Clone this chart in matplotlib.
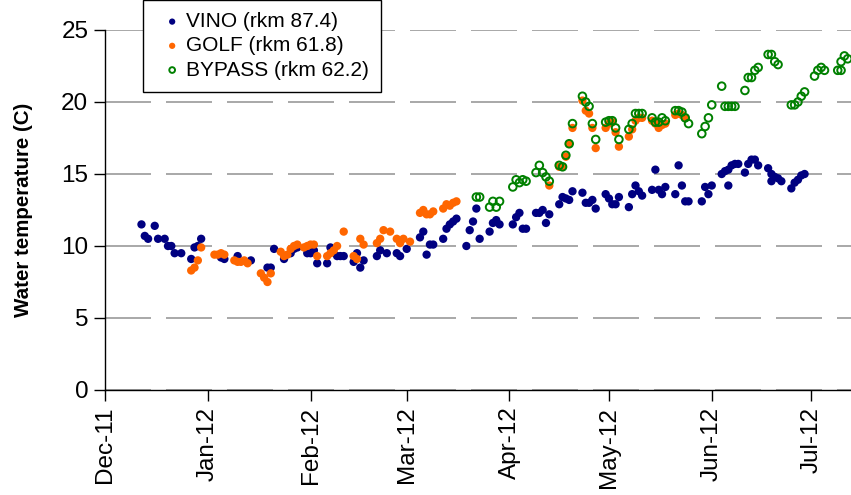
import matplotlib
matplotlib.use('Agg')
import matplotlib.pyplot as plt
import matplotlib.dates as mdates
import pandas as pd

plt.rcParams['font.family'] = ['Liberation Sans', 'DejaVu Sans']

# daily water temperature (C) at the three stations
vino_dates = [
    '2011-12-12', '2011-12-16', '2011-12-13', '2011-12-14', '2011-12-17', '2011-12-19', '2011-12-20',
    '2011-12-21', '2011-12-22', '2011-12-24', '2011-12-27', '2011-12-28', '2011-12-29', '2011-12-30',
    '2012-01-05', '2012-01-06', '2012-01-10', '2012-01-14', '2012-01-19', '2012-01-20', '2012-01-21',
    '2012-01-24', '2012-01-26', '2012-01-27', '2012-01-28', '2012-01-31',
    '2012-02-01', '2012-02-02', '2012-02-03', '2012-02-06', '2012-02-07', '2012-02-09', '2012-02-10',
    '2012-02-11', '2012-02-14', '2012-02-15', '2012-02-16', '2012-02-17', '2012-02-21', '2012-02-22',
    '2012-02-24', '2012-02-27', '2012-02-28',
    '2012-03-01', '2012-03-05', '2012-03-06', '2012-03-07', '2012-03-08', '2012-03-09', '2012-03-12',
    '2012-03-13', '2012-03-14', '2012-03-15', '2012-03-16', '2012-03-19', '2012-03-20', '2012-03-21',
    '2012-03-22', '2012-03-23', '2012-03-26', '2012-03-27', '2012-03-28', '2012-03-29',
    '2012-04-02', '2012-04-03', '2012-04-04', '2012-04-05', '2012-04-06', '2012-04-09', '2012-04-10',
    '2012-04-11', '2012-04-12', '2012-04-13', '2012-04-16', '2012-04-17', '2012-04-18', '2012-04-19',
    '2012-04-20', '2012-04-23', '2012-04-24', '2012-04-25', '2012-04-26', '2012-04-27', '2012-04-30',
    '2012-05-01', '2012-05-02', '2012-05-03', '2012-05-04', '2012-05-07', '2012-05-08', '2012-05-09',
    '2012-05-10', '2012-05-11', '2012-05-14', '2012-05-15', '2012-05-16', '2012-05-17', '2012-05-18',
    '2012-05-21', '2012-05-22', '2012-05-23', '2012-05-24', '2012-05-25', '2012-05-29', '2012-05-30',
    '2012-05-31',
    '2012-06-01', '2012-06-04', '2012-06-05', '2012-06-06', '2012-06-06', '2012-06-07', '2012-06-08',
    '2012-06-09', '2012-06-11', '2012-06-12', '2012-06-13', '2012-06-14', '2012-06-15', '2012-06-18',
    '2012-06-19', '2012-06-19', '2012-06-20', '2012-06-21', '2012-06-22', '2012-06-25', '2012-06-26',
    '2012-06-27', '2012-06-28', '2012-06-29',
]
vino_temp = [
    11.5, 11.4, 10.7, 10.5, 10.5, 10.5, 10.0, 10.0, 9.5, 9.5, 9.1, 9.9, 10.0, 10.5,
    9.2, 9.1, 9.3, 9.0, 8.5, 8.5, 9.8, 9.1, 9.5, 9.8, 9.9, 9.5,
    9.5, 9.7, 8.8, 8.8, 9.9, 9.3, 9.3, 9.3, 8.9, 9.5, 8.5, 9.0, 9.3, 9.7, 9.5, 9.5, 9.3,
    9.8, 10.6, 11.0, 9.4, 10.1, 10.1, 10.5, 11.2, 11.5, 11.7, 11.9, 10.0, 11.1, 11.7, 12.6,
    10.5, 11.0, 11.6, 11.8, 11.5,
    11.5, 12.0, 12.3, 11.2, 11.2, 12.3, 12.3, 12.5, 11.6, 12.2, 12.9, 13.4, 13.3, 13.2, 13.8,
    13.7, 13.0, 13.0, 13.2, 12.6, 13.6,
    13.3, 12.9, 12.9, 13.4, 12.7, 13.6, 14.2, 13.8, 13.5, 13.9, 15.3, 13.9, 13.6, 14.1, 13.6,
    15.6, 14.2, 13.1, 13.1, 13.1, 14.1, 13.6,
    14.2, 15.0, 15.2, 15.3, 14.2, 15.6, 15.7, 15.7, 15.1, 15.7, 16.0, 16.0, 15.6, 15.4, 14.5,
    15.0, 14.8, 14.7, 14.5, 14.0, 14.4, 14.6, 14.9, 15.0,
]

golf_dates = [
    '2011-12-27', '2011-12-28', '2011-12-29', '2011-12-30',
    '2012-01-03', '2012-01-04', '2012-01-05', '2012-01-06', '2012-01-09', '2012-01-10', '2012-01-11',
    '2012-01-12', '2012-01-13', '2012-01-17', '2012-01-18', '2012-01-19', '2012-01-20', '2012-01-23',
    '2012-01-24', '2012-01-25', '2012-01-26', '2012-01-27', '2012-01-28', '2012-01-30', '2012-01-31',
    '2012-02-01', '2012-02-02', '2012-02-03', '2012-02-06', '2012-02-07', '2012-02-08', '2012-02-09',
    '2012-02-11', '2012-02-14', '2012-02-15', '2012-02-16', '2012-02-17', '2012-02-21', '2012-02-22',
    '2012-02-23', '2012-02-25', '2012-02-27', '2012-02-28', '2012-02-29',
    '2012-03-02', '2012-03-05', '2012-03-06', '2012-03-07', '2012-03-08', '2012-03-09', '2012-03-12',
    '2012-03-13', '2012-03-14', '2012-03-15', '2012-03-16',
    '2012-04-13', '2012-04-16', '2012-04-17', '2012-04-18', '2012-04-19', '2012-04-20', '2012-04-23',
    '2012-04-24', '2012-04-25', '2012-04-26', '2012-04-27', '2012-04-30',
    '2012-05-01', '2012-05-02', '2012-05-03', '2012-05-04', '2012-05-07', '2012-05-08', '2012-05-09',
    '2012-05-10', '2012-05-11', '2012-05-14', '2012-05-15', '2012-05-16', '2012-05-17', '2012-05-18',
    '2012-05-21', '2012-05-22', '2012-05-23', '2012-05-24',
]
golf_temp = [
    8.3, 8.5, 9.0, 9.9,
    9.4, 9.4, 9.5, 9.4, 9.0, 8.9, 8.9, 9.0, 8.8, 8.1, 7.8, 7.5, 8.1, 9.6, 9.3, 9.4, 9.8, 10.0,
    10.1, 9.9, 10.0,
    10.1, 10.1, 9.3, 9.3, 9.5, 9.7, 10.0, 11.0, 9.3, 9.1, 10.5, 10.1, 10.2, 10.5, 11.1, 11.0,
    10.5, 10.2, 10.5,
    10.3, 12.3, 12.5, 12.2, 12.2, 12.4, 12.6, 12.9, 12.8, 13.0, 13.1,
    14.2, 15.5, 15.5, 16.2, 17.1, 18.2, 20.1, 19.4, 19.2, 18.2, 16.8, 18.2,
    18.5, 18.6, 17.9, 16.9, 17.6, 18.1, 18.7, 18.9, 18.9, 18.7, 18.5, 18.2, 18.4, 18.5, 19.1,
    19.2, 19.1, 18.9,
]

bypass_dates = [
    '2012-03-22', '2012-03-23', '2012-03-26', '2012-03-27', '2012-03-28', '2012-03-29',
    '2012-04-02', '2012-04-03', '2012-04-04', '2012-04-05', '2012-04-06', '2012-04-09', '2012-04-10',
    '2012-04-11', '2012-04-12', '2012-04-13', '2012-04-16', '2012-04-17', '2012-04-18', '2012-04-19',
    '2012-04-20', '2012-04-23', '2012-04-24', '2012-04-25', '2012-04-26', '2012-04-27', '2012-04-30',
    '2012-05-01', '2012-05-02', '2012-05-03', '2012-05-04', '2012-05-07', '2012-05-08', '2012-05-09',
    '2012-05-10', '2012-05-11', '2012-05-14', '2012-05-15', '2012-05-16', '2012-05-17', '2012-05-18',
    '2012-05-21', '2012-05-22', '2012-05-23', '2012-05-24', '2012-05-25', '2012-05-29', '2012-05-30',
    '2012-05-31',
    '2012-06-01', '2012-06-04', '2012-06-05', '2012-06-06', '2012-06-07', '2012-06-08', '2012-06-11',
    '2012-06-12', '2012-06-13', '2012-06-14', '2012-06-15', '2012-06-18', '2012-06-19', '2012-06-20',
    '2012-06-21', '2012-06-25', '2012-06-26', '2012-06-27', '2012-06-28', '2012-06-29',
    '2012-07-02', '2012-07-03', '2012-07-04', '2012-07-05', '2012-07-09', '2012-07-10', '2012-07-10',
    '2012-07-11', '2012-07-12',
]
bypass_temp = [
    13.4, 13.4, 12.7, 13.1, 12.7, 13.1,
    14.1, 14.6, 14.4, 14.6, 14.5, 15.1, 15.6, 15.1, 14.8, 14.5, 15.6, 15.5, 16.3, 17.1, 18.5,
    20.4, 20.0, 19.7, 18.5, 17.4, 18.6,
    18.7, 18.7, 18.2, 17.4, 18.1, 18.5, 19.2, 19.2, 19.2, 18.9, 18.6, 18.6, 18.9, 18.7, 19.4,
    19.4, 19.3, 18.9, 18.5, 17.8, 18.3, 18.9,
    19.8, 21.1, 19.7, 19.7, 19.7, 19.7, 20.8, 21.7, 21.7, 22.2, 22.4, 23.3, 23.3, 22.8, 22.6,
    19.8, 19.8, 20.0, 20.4, 20.7,
    21.8, 22.2, 22.4, 22.2, 22.2, 22.2, 22.8, 23.2, 23.0,
]

fig = plt.figure(figsize=(8.51, 4.95), dpi=100)
ax = fig.add_axes([105 / 851, 105 / 495, 746 / 851, 360 / 495])

ax.scatter(pd.to_datetime(vino_dates), vino_temp, s=36, color='#000080', edgecolors='none',
           label='VINO (rkm 87.4)', zorder=3)
ax.scatter(pd.to_datetime(golf_dates), golf_temp, s=36, color='#ff6600', edgecolors='none',
           label='GOLF (rkm 61.8)', zorder=3)
ax.scatter(pd.to_datetime(bypass_dates), bypass_temp, s=30, facecolors='none', edgecolors='#008000',
           linewidths=1.4, label='BYPASS (rkm 62.2)', zorder=4)

ax.set_ylim(0, 25)
ax.set_yticks(range(0, 26, 5))
ax.set_xlim(pd.Timestamp('2011-12-01'), pd.Timestamp('2012-07-13'))
ax.xaxis.set_major_locator(mdates.MonthLocator())
ax.xaxis.set_major_formatter(mdates.DateFormatter('%b-%y'))
plt.setp(ax.get_xticklabels(), rotation=90)
ax.tick_params(labelsize=17.5, length=8, width=1, direction='out', pad=4)

ax.yaxis.grid(True, color='#999999', linewidth=1.2, linestyle=(0, (27.6, 9)))
ax.set_axisbelow(True)
for side in ['top', 'right']:
    ax.spines[side].set_visible(False)
for side in ['left', 'bottom']:
    ax.spines[side].set_color('black')
    ax.spines[side].set_linewidth(1)

ax.set_ylabel('Water temperature (C)', fontsize=14.8, fontweight='bold')
ax.yaxis.set_label_coords(-0.0965, 0.5)

leg = ax.legend(loc='lower left', bbox_to_anchor=(143 / 851, 403 / 495), bbox_transform=fig.transFigure,
                fontsize=15, frameon=True, fancybox=False, framealpha=1, edgecolor='black',
                borderaxespad=0, borderpad=0.6, markerscale=0.75, scatterpoints=1,
                handlelength=1.6, handletextpad=-0.15, labelspacing=0.25)
leg.get_frame().set_linewidth(1.0)

fig.savefig('out.png', dpi=100)
